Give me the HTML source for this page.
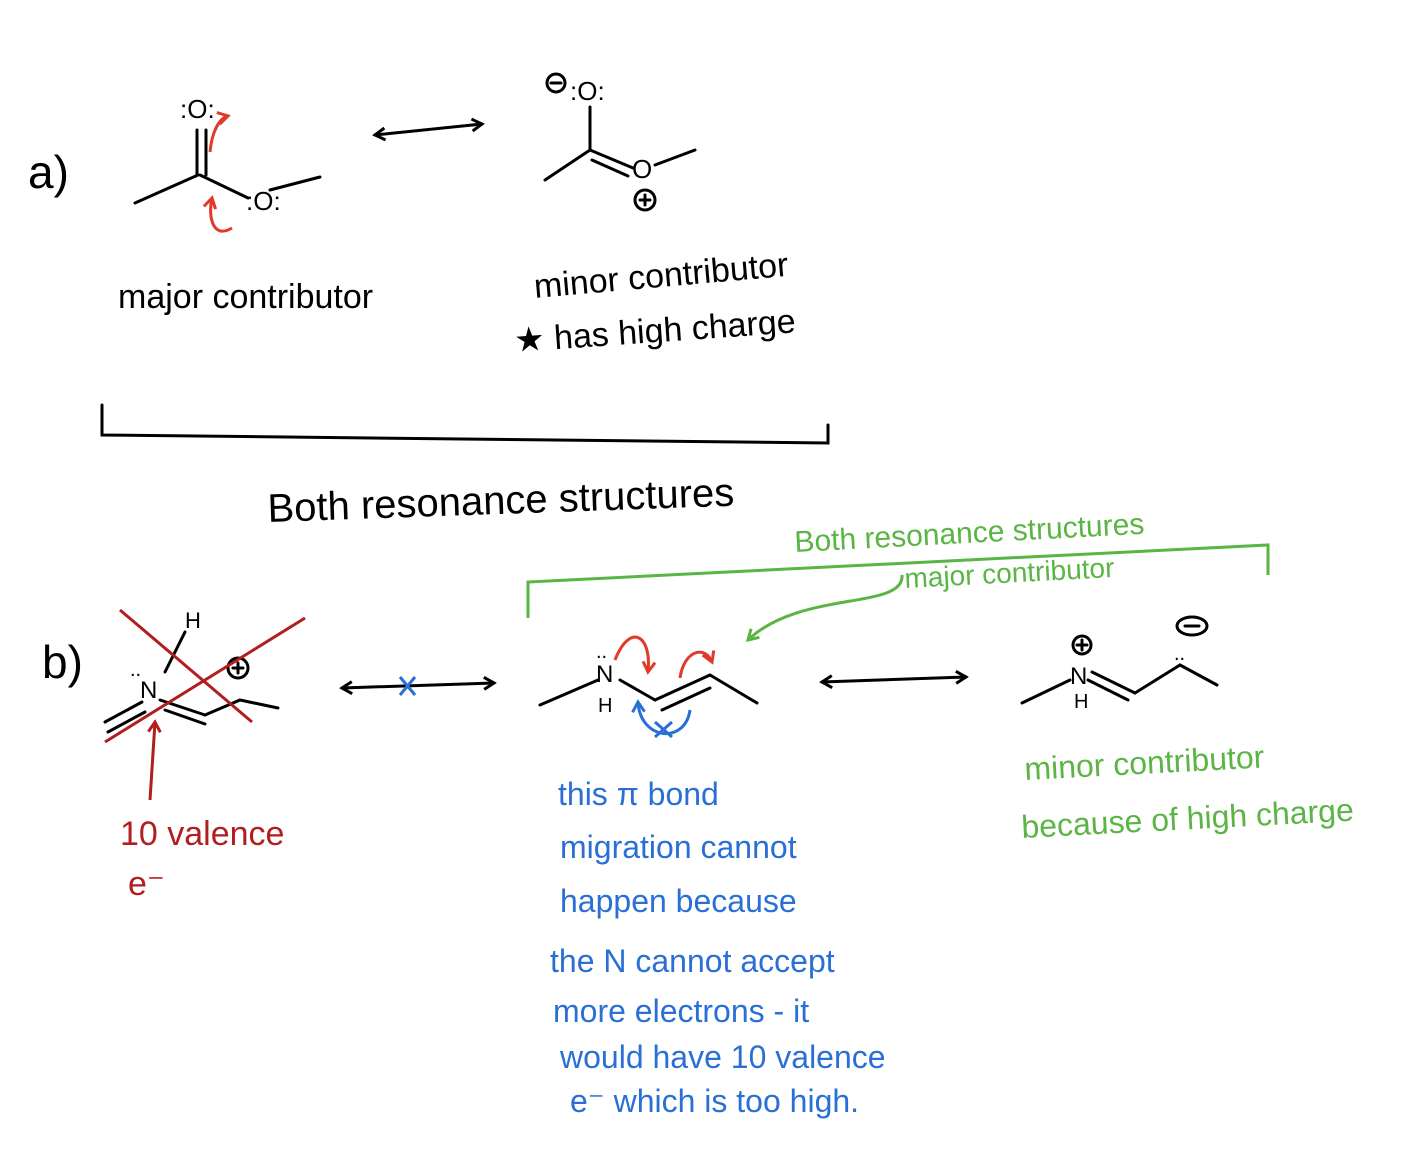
<!DOCTYPE html>
<html><head><meta charset="utf-8"><style>
html,body{margin:0;padding:0;background:#fff;}
svg{display:block;}
text{font-family:"Liberation Sans",sans-serif;}
</style></head><body>
<svg width="1422" height="1166" viewBox="0 0 1422 1166" xmlns="http://www.w3.org/2000/svg">
<rect width="1422" height="1166" fill="#fff"/>
<defs>
<marker id="ak" markerUnits="userSpaceOnUse" markerWidth="16" markerHeight="16" refX="12" refY="8" orient="auto-start-reverse"><path d="M2,2 L12,8 L2,14" fill="none" stroke="#000" stroke-width="3"/></marker>
<marker id="ar" markerUnits="userSpaceOnUse" markerWidth="16" markerHeight="16" refX="12" refY="8" orient="auto"><path d="M2,2 L12,8 L2,14" fill="none" stroke="#e03a2a" stroke-width="3"/></marker>
<marker id="ad" markerUnits="userSpaceOnUse" markerWidth="16" markerHeight="16" refX="12" refY="8" orient="auto"><path d="M2,2 L12,8 L2,14" fill="none" stroke="#b21d1d" stroke-width="3"/></marker>
<marker id="ab" markerUnits="userSpaceOnUse" markerWidth="16" markerHeight="16" refX="12" refY="8" orient="auto"><path d="M2,2 L12,8 L2,14" fill="none" stroke="#2a6fd6" stroke-width="3"/></marker>
<marker id="ag" markerUnits="userSpaceOnUse" markerWidth="16" markerHeight="16" refX="12" refY="8" orient="auto"><path d="M2,2 L12,8 L2,14" fill="none" stroke="#5ab544" stroke-width="3"/></marker>
</defs>
<g stroke="#000" stroke-width="3" fill="none" stroke-linecap="round">
<line x1="135" y1="203" x2="198" y2="175"/>
<line x1="197" y1="130" x2="197" y2="175"/>
<line x1="206" y1="130" x2="206" y2="175"/>
<line x1="200" y1="175" x2="248" y2="198"/>
<line x1="270" y1="190" x2="320" y2="177"/>
<line x1="375" y1="135" x2="482" y2="124" marker-end="url(#ak)" marker-start="url(#ak)"/>
<line x1="590" y1="107" x2="590" y2="150"/>
<line x1="545" y1="180" x2="590" y2="150"/>
<line x1="590" y1="150" x2="633" y2="168"/>
<line x1="592" y1="160" x2="628" y2="176"/>
<line x1="655" y1="165" x2="695" y2="150"/>
<circle cx="556" cy="83" r="9"/><line x1="551" y1="83" x2="561" y2="83"/>
<circle cx="645" cy="200" r="10"/><line x1="640" y1="200" x2="650" y2="200"/><line x1="645" y1="195" x2="645" y2="205"/>
<polyline points="102,405 102,435 828,443 828,425"/>
<line x1="1022" y1="703" x2="1070" y2="680"/>
<line x1="1092" y1="672" x2="1135" y2="693"/>
<line x1="1088" y1="680" x2="1128" y2="700"/>
<line x1="1135" y1="693" x2="1180" y2="665"/>
<line x1="1180" y1="665" x2="1217" y2="685"/>
<circle cx="1082" cy="645" r="9"/><line x1="1077" y1="645" x2="1087" y2="645"/><line x1="1082" y1="640" x2="1082" y2="650"/>
<ellipse cx="1192" cy="626" rx="15" ry="9"/><line x1="1185" y1="626" x2="1199" y2="626"/>
<line x1="540" y1="705" x2="598" y2="680"/>
<line x1="620" y1="680" x2="655" y2="700"/>
<line x1="655" y1="700" x2="710" y2="675"/>
<line x1="662" y1="710" x2="710" y2="688"/>
<line x1="710" y1="675" x2="757" y2="703"/>
<line x1="342" y1="688" x2="494" y2="683" marker-end="url(#ak)" marker-start="url(#ak)"/>
<line x1="822" y1="682" x2="966" y2="677" marker-end="url(#ak)" marker-start="url(#ak)"/>
<line x1="105" y1="722" x2="142" y2="702"/>
<line x1="108" y1="732" x2="145" y2="712"/>
<line x1="165" y1="672" x2="185" y2="632"/>
<line x1="160" y1="700" x2="205" y2="715"/>
<line x1="165" y1="710" x2="205" y2="724"/>
<line x1="205" y1="715" x2="240" y2="700"/>
<line x1="240" y1="700" x2="278" y2="708"/>
<circle cx="238" cy="668" r="10"/><line x1="233" y1="668" x2="243" y2="668"/><line x1="238" y1="663" x2="238" y2="673"/>
</g>
<g fill="#000">
<text x="28" y="188" font-size="46">a)</text>
<text x="180" y="118" font-size="26">:O:</text>
<text x="246" y="210" font-size="26">:O:</text>
<text x="570" y="100" font-size="26">:O:</text>
<text x="632" y="178" font-size="26">O</text>
<text x="118" y="308" font-size="34">major contributor</text>
<text x="535" y="298" font-size="34" transform="rotate(-5 535 298)">minor contributor</text>
<text x="515" y="352" font-size="34" transform="rotate(-4 515 352)">★ has high charge</text>
<text x="268" y="522" font-size="40" transform="rotate(-2 268 522)">Both resonance structures</text>
<text x="42" y="678" font-size="46">b)</text>
<text x="140" y="698" font-size="24">N</text><text x="185" y="628" font-size="22">H</text>
<text x="596" y="682" font-size="24">N</text><text x="598" y="712" font-size="20">H</text>
<text x="1070" y="684" font-size="24">N</text><text x="1074" y="708" font-size="20">H</text>
<text x="1174" y="660" font-size="20">..</text>
<text x="130" y="676" font-size="20">..</text>
<text x="596" y="658" font-size="20">..</text>
</g>
<g stroke="#e03a2a" stroke-width="3" fill="none">
<path d="M210,152 C212,130 220,118 228,116" marker-end="url(#ar)"/>
<path d="M232,228 C212,240 208,215 212,198" marker-end="url(#ar)"/>
<path d="M615,660 C630,622 652,635 648,672" marker-end="url(#ar)"/>
<path d="M680,678 C684,650 705,645 712,662" marker-end="url(#ar)"/>
</g>
<g stroke="#b21d1d" stroke-width="3" fill="none">
<line x1="120" y1="610" x2="252" y2="722"/>
<line x1="105" y1="742" x2="305" y2="618"/>
<line x1="150" y1="800" x2="155" y2="722" marker-end="url(#ad)"/>
</g>
<text x="120" y="845" font-size="34" fill="#b21d1d">10 valence</text>
<text x="128" y="895" font-size="34" fill="#b21d1d">e⁻</text>
<g stroke="#2a6fd6" stroke-width="3" fill="none">
<line x1="400" y1="677" x2="415" y2="695"/><line x1="415" y1="677" x2="400" y2="695"/>
<path d="M690,710 C685,745 640,740 638,702" marker-end="url(#ab)"/>
<line x1="655" y1="722" x2="672" y2="737"/><line x1="672" y1="722" x2="655" y2="737"/>
</g>
<g fill="#2a6fd6" font-size="32">
<text x="558" y="805">this π bond</text>
<text x="560" y="858">migration cannot</text>
<text x="560" y="912">happen because</text>
<text x="550" y="972">the  N cannot accept</text>
<text x="553" y="1022">more electrons - it</text>
<text x="560" y="1068">would have  10 valence</text>
<text x="570" y="1112">e⁻ which is too high.</text>
</g>
<g stroke="#5ab544" stroke-width="3" fill="none">
<polyline points="528,618 528,582 1268,545 1268,575"/>
<path d="M902,575 C905,610 800,590 748,640" marker-end="url(#ag)"/>
</g>
<g fill="#5ab544">
<text x="795" y="552" font-size="30" transform="rotate(-3 795 552)">Both resonance structures</text>
<text x="905" y="588" font-size="28" transform="rotate(-3 905 588)">major contributor</text>
<text x="1025" y="780" font-size="32" transform="rotate(-3 1025 780)">minor contributor</text>
<text x="1022" y="838" font-size="32" transform="rotate(-3 1022 838)">because of high charge</text>
</g>
</svg>
</body></html>
